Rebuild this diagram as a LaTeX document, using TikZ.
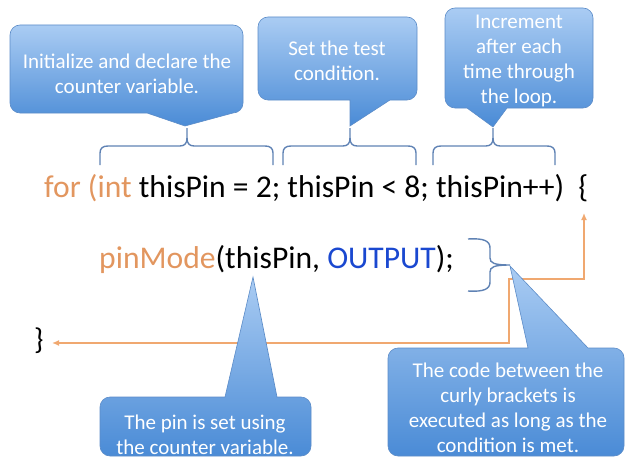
\documentclass[tikz,border=0pt]{standalone}
\usepackage{fontspec}
\setmainfont{Carlito}
\usetikzlibrary{arrows.meta}
\definecolor{codeorange}{RGB}{226,150,95}
\definecolor{lineorange}{RGB}{240,168,112}
\definecolor{codeblue}{RGB}{26,72,208}
\definecolor{bracecol}{RGB}{95,130,180}
\definecolor{calltop}{RGB}{170,204,243}
\definecolor{callbot}{RGB}{74,139,214}
\definecolor{callborder}{RGB}{92,140,200}
\tikzset{
  callfill/.style={top color=calltop, bottom color=callbot, draw=callborder, line width=0.6pt},
  calltext/.style={text=white, align=center, inner sep=0pt, font=\fontsize{21}{25}\selectfont},
  codetext/.style={inner sep=0pt, anchor=base west},
  bracestroke/.style={draw=bracecol, line width=1.4pt},
  looparrow/.style={draw=lineorange, line width=1.6pt, {Latex[length=7pt,width=6pt]}-{Latex[length=7pt,width=6pt]}}
}
% callout with pointer below: L,R,T,B,base-left,base-right,tipx,tipy
\newcommand\calldown[8]{%
  \path[callfill] (#5,#4) -- (#7,#8) -- (#6,#4) -- ({#2-10},#4)
    arc[start angle=270,end angle=360,radius=10] -- (#2,{#3-10})
    arc[start angle=0,end angle=90,radius=10] -- ({#1+10},#3)
    arc[start angle=90,end angle=180,radius=10] -- (#1,{#4+10})
    arc[start angle=180,end angle=270,radius=10] -- cycle;}
% callout with pointer above
\newcommand\callup[8]{%
  \path[callfill] (#5,#3) -- (#7,#8) -- (#6,#3) -- ({#2-10},#3)
    arc[start angle=90,end angle=0,radius=10] -- (#2,{#4+10})
    arc[start angle=0,end angle=-90,radius=10] -- ({#1+10},#4)
    arc[start angle=270,end angle=180,radius=10] -- (#1,{#3-10})
    arc[start angle=180,end angle=90,radius=10] -- cycle;}
% horizontal brace: x1,x2,xm
\newcommand\hbrace[3]{%
  \path[bracestroke] (#1,294) -- (#1,306) .. controls (#1,311) and ({#1+3},313) .. ({#1+8},313)
    -- ({#3-7},313) .. controls ({#3-2},313) and (#3,316) .. (#3,321) -- (#3,331);
  \path[bracestroke] (#3,321) .. controls (#3,316) and ({#3+2},313) .. ({#3+7},313)
    -- ({#2-8},313) .. controls ({#2-3},313) and (#2,311) .. (#2,306) -- (#2,294);}
\begin{document}
\begin{tikzpicture}[x=1pt,y=1pt]
\useasboundingbox (0,0) rectangle (626,459);
% top callouts
\calldown{10}{243}{434}{346}{147}{233}{185}{333}
\calldown{258}{417}{442}{359}{350}{390}{350}{333}
\calldown{445}{593}{451}{351}{467}{507}{493}{332}
\node[calltext] (t1) at (127,385.5) {Initialize and declare the\\counter variable.};
\node[calltext] (t2) at (337,398) {Set the test\\condition.};
\node[calltext] (t3) at (519,398) {Increment\\after each\\time through\\the loop.};
% braces
\hbrace{100}{273}{187}
\hbrace{283}{416}{350}
\hbrace{433}{555}{493}
% code
\node[codetext, font=\fontsize{31.6}{36}\selectfont] (code1) at (44,262) {{\color{codeorange}for (int} thisPin = 2; thisPin < 8; thisPin++)\hspace{0.45em}\{};
\node[codetext, font=\fontsize{31.6}{36}\selectfont] (code2) at (99,191) {{\color{codeorange}pinMode}(thisPin, {\color{codeblue}OUTPUT});};
\node[codetext, font=\fontsize{30}{34}\selectfont] (close) at (34,110) {\}};
% right brace
\path[bracestroke] (468,220) .. controls (484,221) and (490,218) .. (490,211) -- (490,201)
  .. controls (490,196) and (494,194) .. (510,194) .. controls (494,194) and (490,192) .. (490,187)
  -- (490,177) .. controls (490,170) and (484,167) .. (468,168);
% loop arrow
\coordinate (lend) at (52,116);
\coordinate (rend) at (584,246);
\path[looparrow] (lend) -- (509,116) -- (509,180) -- (584,180) -- (rend);
% bottom callouts
\callup{100}{311}{62}{3}{225}{277}{253}{182}
\callup{388}{624}{111}{3}{528}{588}{510}{193}
\node[calltext] (t4) at (205,24.5) {The pin is set using\\the counter variable.};
\node[calltext] (t5) at (508,51.5) {The code between the\\curly brackets is\\executed as long as the\\condition is met.};
\end{tikzpicture}
\end{document}
